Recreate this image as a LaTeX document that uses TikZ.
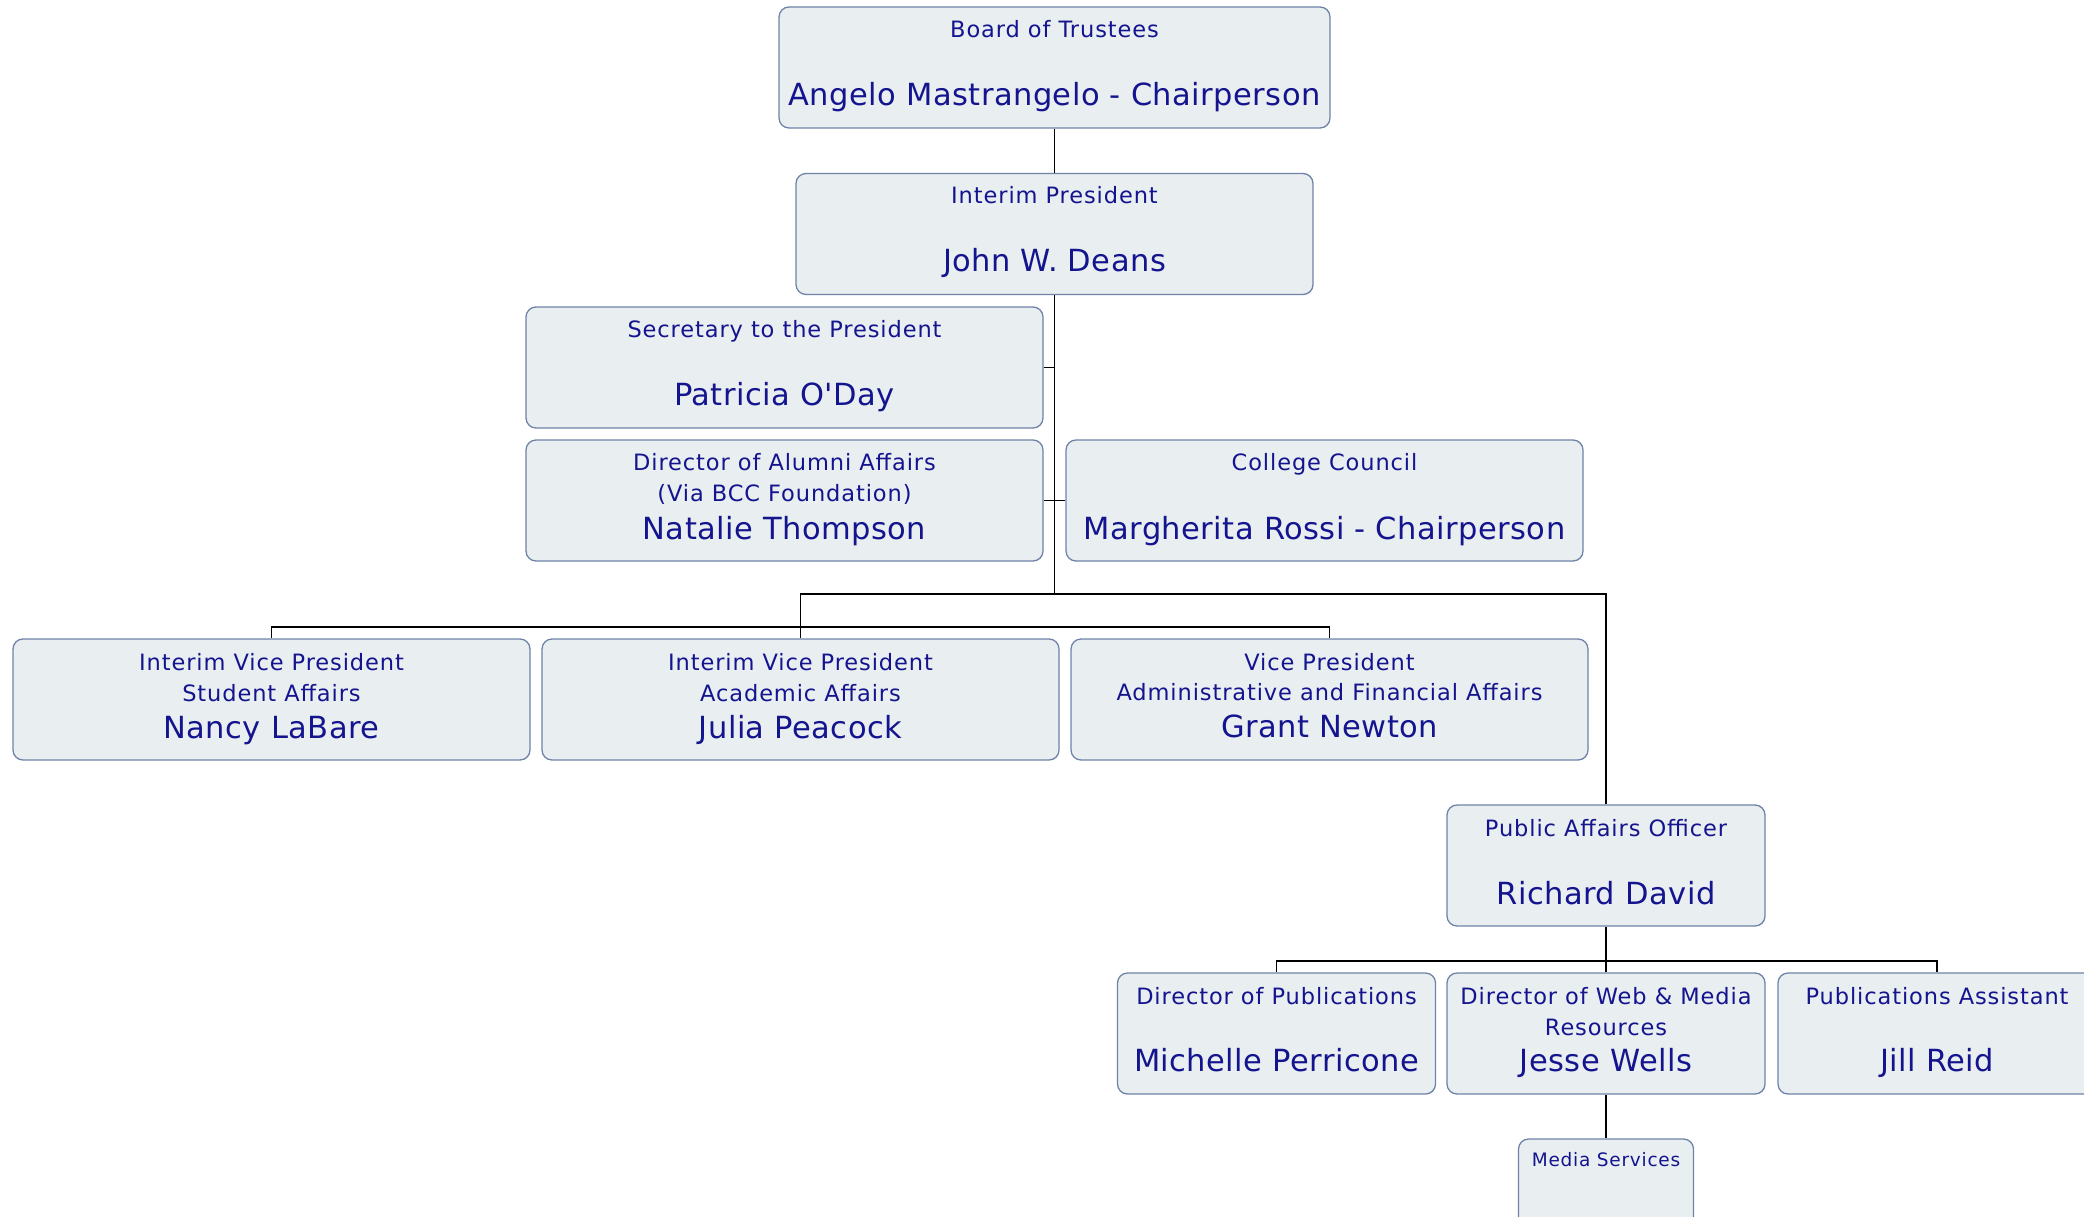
\documentclass[tikz,border=0pt]{standalone}
\usepackage{fontspec}
\setmainfont{DejaVu Sans}[Ligatures=TeXOff]
\newfontfamily\ttlfont{DejaVu Sans}[Ligatures=TeXOff,LetterSpace=4]
\newfontfamily\nmfont{DejaVu Sans}[Ligatures=TeXOff,LetterSpace=1.5]
\definecolor{boxfill}{HTML}{E9EEF1}
\definecolor{boxline}{HTML}{6F83A8}
\definecolor{txt}{HTML}{14148E}
\begin{document}
\begin{tikzpicture}[x=1pt,y=-1pt,
  box/.style={rectangle,rounded corners=10pt,draw=boxline,fill=boxfill,line width=1.3pt,minimum width=517pt,minimum height=121pt,inner sep=0pt},
  nbox/.style={box,minimum width=318pt},
  ttl/.style={font=\ttlfont\fontsize{22.5}{22.5}\selectfont,text=txt,anchor=base,inner sep=0pt},
  nm/.style={font=\nmfont\fontsize{30.5}{30.5}\selectfont,text=txt,anchor=base,inner sep=0pt},
  sm/.style={font=\ttlfont\fontsize{18.5}{18.5}\selectfont,text=txt,anchor=base,inner sep=0pt},
  conn/.style={draw=black,line width=1.4pt}]
\clip (0,0) rectangle (2084,1217);
\fill[white] (0,0) rectangle (2084,1217);
% boxes
\node[box,minimum width=551pt] (board) at (1054.5,67.5) {};
\node[box] (pres) at (1054.5,234) {};
\node[box] (sec) at (784.5,367.5) {};
\node[box] (alum) at (784.5,500.5) {};
\node[box] (coun) at (1324.5,500.5) {};
\node[box] (stud) at (271.5,699.5) {};
\node[box] (acad) at (800.5,699.5) {};
\node[box] (admn) at (1329.5,699.5) {};
\node[nbox] (pub) at (1606,865.5) {};
\node[nbox] (dpub) at (1276.5,1033.5) {};
\node[nbox] (web) at (1606,1033.5) {};
\node[nbox] (asst) at (1937,1033.5) {};
\node[box,minimum width=175pt] (media) at (1606,1199.5) {};
% connectors
\coordinate (bus1) at (0,594);
\coordinate (bus2) at (0,627);
\coordinate (bus3) at (0,961);
\draw[conn] (board.south) -- (pres.north);
\draw[conn] (pres.south) -- (pres.south |- bus1) -| (pub.north);
\draw[conn] (acad.north) |- (pres.south |- bus1);
\draw[conn] (stud.north) -- (stud.north |- bus2) -| (admn.north);
\draw[conn] (sec.east) -- (sec.east -| pres.south);
\draw[conn] (alum.east) -- (coun.west);
\draw[conn] (pub.south) -- (web.north);
\draw[conn] (dpub.north) -- (dpub.north |- bus3) -| (asst.north);
\draw[conn] (web.south) -- (media.north);
% texts
\node[ttl] (boardT) at ([yshift=-31pt]board.north) {Board of Trustees};
\node[nm] (boardN) at ([yshift=-99pt]board.north) {Angelo Mastrangelo - Chairperson};
\node[ttl] (presT) at ([yshift=-31pt]pres.north) {Interim President};
\node[nm] (presN) at ([yshift=-99pt]pres.north) {John W. Deans};
\node[ttl] (secT) at ([yshift=-31pt]sec.north) {Secretary to the President};
\node[nm] (secN) at ([yshift=-99pt]sec.north) {Patricia O'Day};
\node[ttl] (alumT) at ([yshift=-31.5pt]alum.north) {Director of Alumni Affairs};
\node[ttl] (alumT2) at ([yshift=-62.5pt]alum.north) {(Via BCC Foundation)};
\node[nm] (alumN) at ([yshift=-100.5pt]alum.north) {Natalie Thompson};
\node[ttl] (counT) at ([yshift=-31.5pt]coun.north) {College Council};
\node[nm] (counN) at ([yshift=-100.5pt]coun.north) {Margherita Rossi - Chairperson};
\node[ttl] (studT) at ([yshift=-32pt]stud.north) {Interim Vice President};
\node[ttl] (studT2) at ([yshift=-63pt]stud.north) {Student Affairs};
\node[nm] (studN) at ([yshift=-100pt]stud.north) {Nancy LaBare};
\node[ttl] (acadT) at ([yshift=-32pt]acad.north) {Interim Vice President};
\node[ttl] (acadT2) at ([yshift=-63pt]acad.north) {Academic Affairs};
\node[nm] (acadN) at ([yshift=-100pt]acad.north) {Julia Peacock};
\node[ttl] (admnT) at ([yshift=-32pt]admn.north) {Vice President};
\node[ttl] (admnT2) at ([yshift=-62pt]admn.north) {Administrative and Financial Affairs};
\node[nm] (admnN) at ([yshift=-99pt]admn.north) {Grant Newton};
\node[ttl] (pubT) at ([yshift=-32pt]pub.north) {Public Affairs Officer};
\node[nm] (pubN) at ([yshift=-100pt]pub.north) {Richard David};
\node[ttl] (dpubT) at ([yshift=-32pt]dpub.north) {Director of Publications};
\node[nm] (dpubN) at ([yshift=-99.5pt]dpub.north) {Michelle Perricone};
\node[ttl] (webT) at ([yshift=-32pt]web.north) {Director of Web \& Media};
\node[ttl] (webT2) at ([yshift=-63pt]web.north) {Resources};
\node[nm] (webN) at ([yshift=-99.5pt]web.north) {Jesse Wells};
\node[ttl] (asstT) at ([yshift=-32pt]asst.north) {Publications Assistant};
\node[nm] (asstN) at ([yshift=-99.5pt]asst.north) {Jill Reid};
\node[sm] (mediaT) at ([yshift=-28pt]media.north) {Media Services};
\end{tikzpicture}
\end{document}
